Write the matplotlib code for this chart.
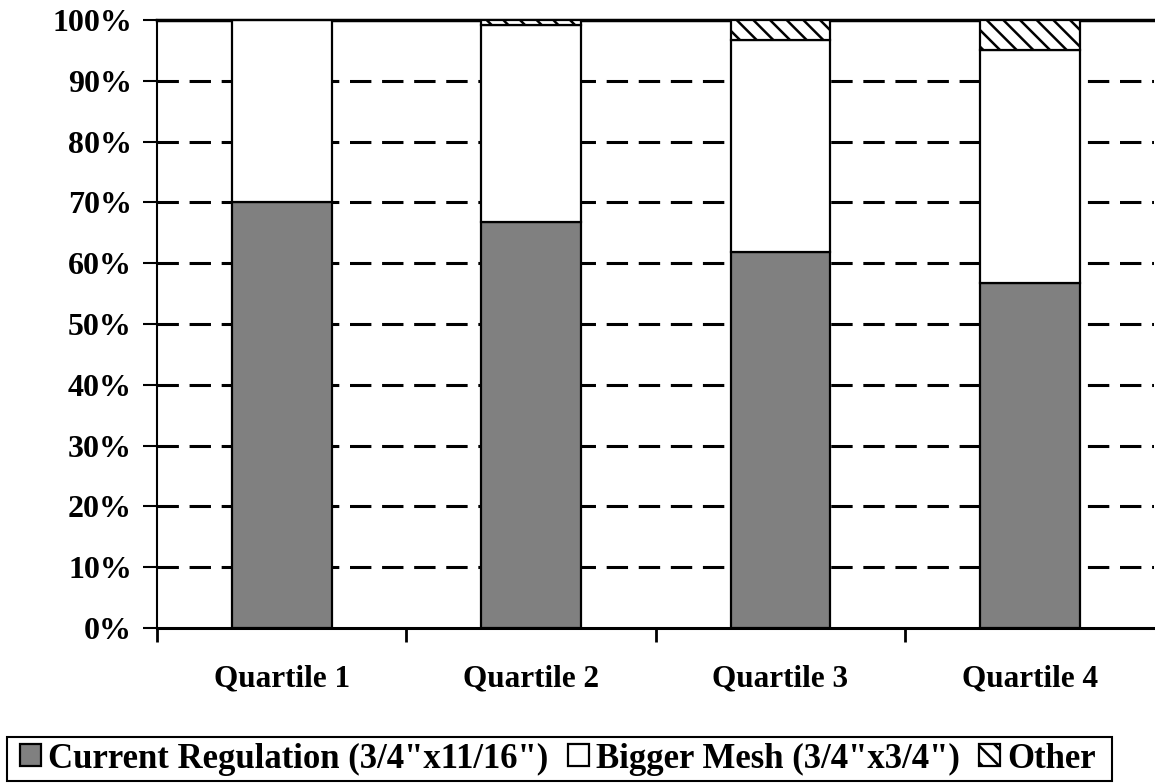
import numpy as np
from matplotlib import pyplot as plt
from matplotlib.patches import Rectangle

# Data (percent of each quartile)
quartiles = ['Quartile 1', 'Quartile 2', 'Quartile 3', 'Quartile 4']
current_reg = [70.0, 66.7, 61.9, 56.8]
bigger_mesh = [30.0, 32.4, 34.8, 38.2]
other = [0.0, 0.9, 3.3, 5.0]
series_names = ['Current Regulation (3/4"x11/16")', 'Bigger Mesh (3/4"x3/4")', 'Other']
yticks = [0, 10, 20, 30, 40, 50, 60, 70, 80, 90, 100]

plt.rcParams['font.family'] = ['Liberation Serif', 'DejaVu Serif']
plt.rcParams['font.weight'] = 'bold'
plt.rcParams['hatch.linewidth'] = 1.8

W, H = 1155, 783
fig = plt.figure(figsize=(W/100, H/100), dpi=100)
ax = fig.add_axes([157/W, 155/H, 1 - 157/W - 0.0005, 608/H])

x = np.arange(len(quartiles))
w = 0.4
bot2 = np.array(current_reg)
bot3 = bot2 + np.array(bigger_mesh)
b1 = ax.bar(x, current_reg, w, color='#808080', edgecolor='black', linewidth=1.6, zorder=3)
b2 = ax.bar(x, bigger_mesh, w, bottom=bot2, color='white', edgecolor='black', linewidth=1.6, zorder=3)
b3 = ax.bar(x, other, w, bottom=bot3, color='white', edgecolor='black', hatch='\\\\', linewidth=1.6, zorder=3)

ax.set_xlim(-0.5, len(quartiles) - 0.5)
ax.set_ylim(0, 100)
ax.set_yticks(yticks)
ax.set_yticklabels([f'{v}%' for v in yticks], fontsize=23, fontweight='bold')
ax.set_xticks(x)
ax.set_xticklabels(quartiles, fontsize=22.5, fontweight='bold')
ax.set_xticks(np.arange(len(quartiles)) - 0.5, minor=True)
ax.tick_params(axis='x', which='major', length=0, pad=26)
ax.tick_params(axis='x', which='minor', length=10, width=2, direction='out')
ax.tick_params(axis='y', length=10, width=1.5, direction='out', pad=8)

# dashed gridlines behind the bars
for v in yticks[1:-1]:
    ax.axhline(v, color='black', linewidth=2.2, linestyle=(0, (7, 3.5)), zorder=1)

ax.spines['right'].set_visible(False)
ax.spines['top'].set_linewidth(2.5)
ax.spines['left'].set_linewidth(1.5)
ax.spines['bottom'].set_linewidth(2.2)

# legend box drawn by hand so padding can differ horizontally/vertically
fig.patches.append(Rectangle((7/W, 1 - 781/H), (1112 - 7)/W, (781 - 737)/H,
                             transform=fig.transFigure, facecolor='white',
                             edgecolor='black', linewidth=1.5, zorder=0))
leg = fig.legend([b1, b2, b3], series_names, loc='center left', ncol=3,
                 bbox_to_anchor=(20/W, 1 - 759/H), frameon=False,
                 prop={'size': 25, 'weight': 'bold'}, handlelength=0.6, handleheight=0.6,
                 handletextpad=0.22, columnspacing=0.55, borderpad=0, borderaxespad=0)

fig.savefig('out.png', dpi=100)
